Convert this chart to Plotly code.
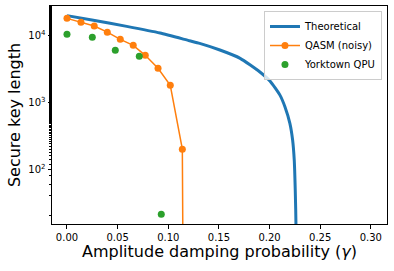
import plotly.graph_objects as go

# Theoretical curve
theory_gamma = [0.0, 0.026, 0.059, 0.092, 0.121, 0.131, 0.151, 0.171, 0.1905, 0.2004,
                0.2103, 0.2152, 0.2201, 0.2228, 0.2244, 0.2254, 0.2261, 0.2264]
theory_key = [20000, 17000, 13800, 10970, 8410, 7690, 6110, 4590, 2860, 2100,
              1290, 865, 488, 275, 138, 49, 15, 0]

# QASM (noisy) simulation
qasm_gamma = [0.0, 0.0138, 0.0269, 0.0398, 0.0526, 0.0654, 0.0773, 0.0899, 0.1020, 0.1139, 0.1266]
qasm_key = [18200, 15900, 14000, 11300, 8830, 7180, 5090, 3250, 1810, 200, 0]

# Yorktown QPU
qpu_gamma = [0.0, 0.025, 0.0477, 0.0714, 0.0931]
qpu_key = [10500, 9460, 6040, 4920, 21.2]

x_ticks = [0.0, 0.05, 0.10, 0.15, 0.20, 0.25, 0.30]
y_ticks = [100, 1000, 10000]
y_ticklabels = ["10<sup>2</sup>", "10<sup>3</sup>", "10<sup>4</sup>"]

FLOOR = 1e-30  # zero key length clipped on log axis (as matplotlib does)


def clip(vals):
    return [v if v > 0 else FLOOR for v in vals]


fig = go.Figure()
fig.add_trace(go.Scatter(x=theory_gamma, y=clip(theory_key), mode="lines",
                         name="Theoretical",
                         line=dict(color="#1f77b4", width=3, shape="spline", smoothing=0.5)))
fig.add_trace(go.Scatter(x=qasm_gamma, y=clip(qasm_key), mode="lines+markers",
                         name="QASM (noisy)", line=dict(color="#ff7f0e", width=1.5),
                         marker=dict(size=7, color="#ff7f0e")))
fig.add_trace(go.Scatter(x=qpu_gamma, y=qpu_key, mode="markers",
                         name="Yorktown QPU", marker=dict(size=7, color="#2ca02c")))

font = "DejaVu Sans"
fig.update_layout(
    width=394, height=271,
    margin=dict(l=52, r=7, t=6, b=47, autoexpand=False),
    paper_bgcolor="white", plot_bgcolor="white",
    font=dict(family=font, size=10, color="#000"),
    showlegend=True,
    legend=dict(x=0.985, y=0.977, xanchor="right", yanchor="top",
                bgcolor="rgba(255,255,255,0.8)", bordercolor="#cccccc", borderwidth=1,
                font=dict(size=10), itemwidth=30, tracegroupgap=0),
    xaxis=dict(range=[-0.0148, 0.316], tickvals=x_ticks, tickformat=".2f",
               automargin=False,
               showgrid=False, zeroline=False, showline=True, linecolor="black",
               linewidth=1, mirror=True, ticks="outside", ticklen=3.5,
               tickcolor="black", tickfont=dict(size=10),
               title=dict(text="Amplitude damping probability (<i>γ</i>)",
                          font=dict(size=16), standoff=3)),
    yaxis=dict(type="log", range=[1.181, 4.445], tickvals=y_ticks,
               ticktext=y_ticklabels, showgrid=False, zeroline=False,
               automargin=False,
               showline=True, linecolor="black", linewidth=1, mirror=True,
               ticks="outside", ticklen=3.5, tickcolor="black",
               tickfont=dict(size=10),
               minor=dict(ticks="outside", ticklen=2, tickcolor="black", showgrid=False),
               title=dict(text="Secure key length", font=dict(size=16), standoff=3)),
)

fig.write_html("out.html", config={"displayModeBar": False},
               post_script="document.body.style.margin='0';document.body.style.padding='0';")
